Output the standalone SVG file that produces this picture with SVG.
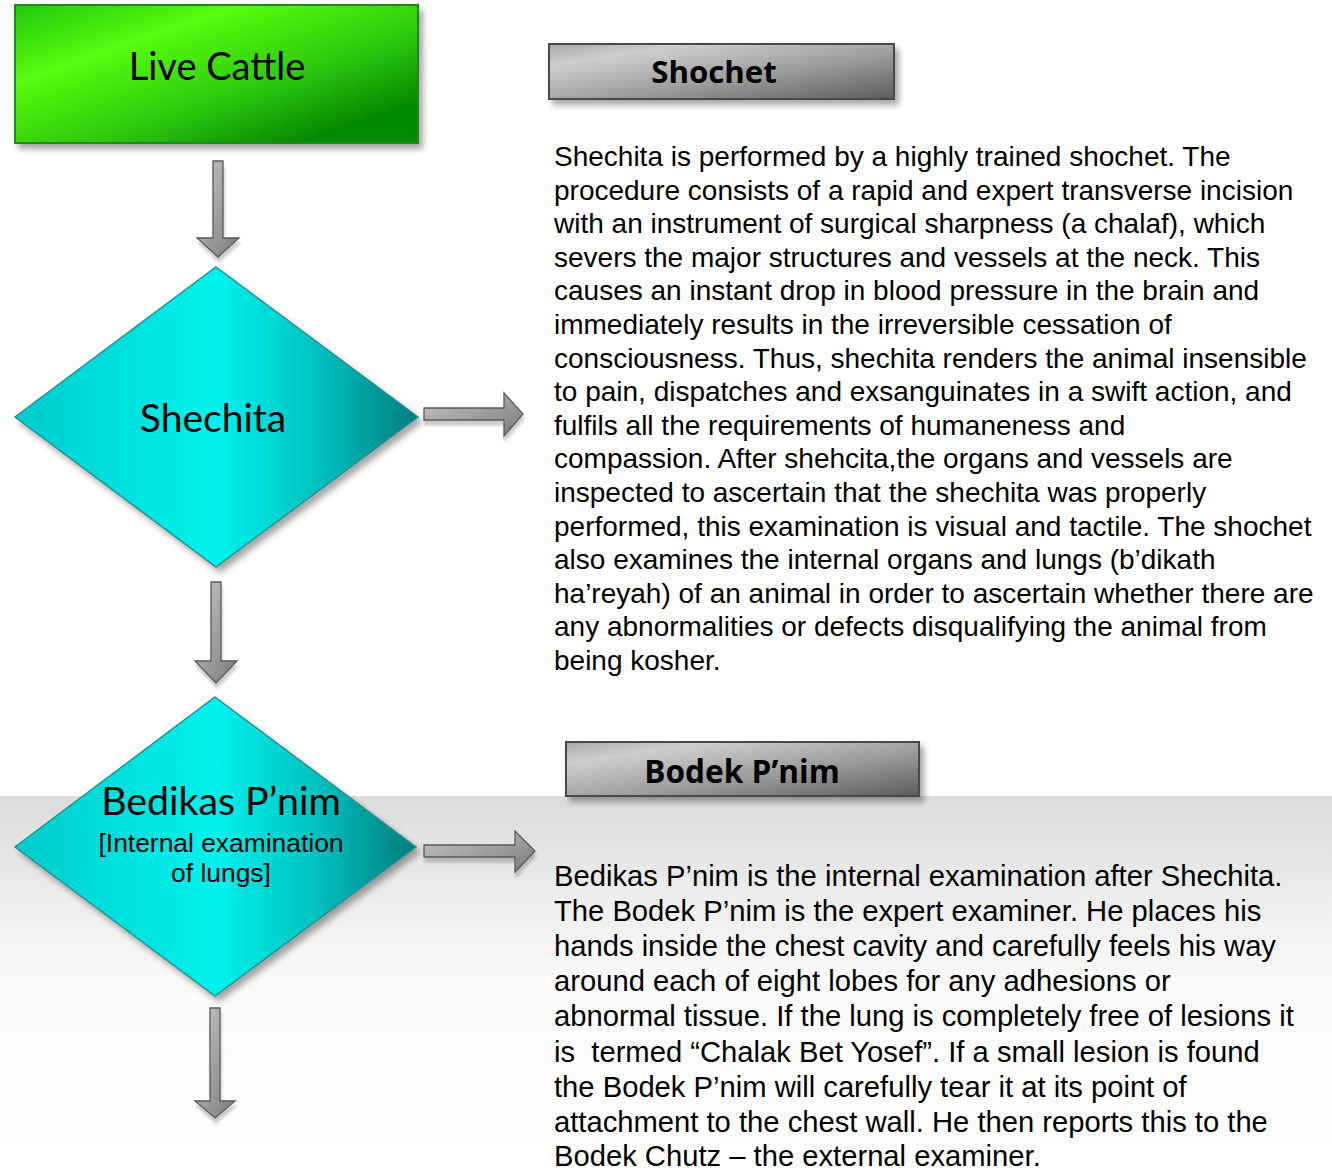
<svg xmlns="http://www.w3.org/2000/svg" width="1332" height="1168" viewBox="0 0 1332 1168">
<style>
.lbl{font-family:Lato,"Open Sans","Noto Sans",sans-serif;fill:#000;text-anchor:middle}
.hdr{font-family:"Open Sans",Lato,"Noto Sans",sans-serif;font-weight:bold;fill:#000;text-anchor:middle}
.body{font-family:"Liberation Sans",Arial,sans-serif;fill:#000;white-space:pre}
.arrow{fill:url(#gArrow);stroke:#5a5a5a;stroke-width:1.3;filter:url(#shA)}
.dia{fill:url(#gDia);stroke:#2a8f8f;stroke-width:1.5;filter:url(#sh)}
.hbox{fill:url(#gGrey);stroke:#4a4a4a;stroke-width:2;filter:url(#sh)}
</style>
<defs>
<linearGradient id="gBg" x1="0" y1="0" x2="0" y2="1">
<stop offset="0" stop-color="#dcdcdc"/>
<stop offset="0.5" stop-color="#fafafa"/>
<stop offset="1" stop-color="#ffffff"/>
</linearGradient>
<linearGradient id="gGreen" x1="0" y1="0" x2="1" y2="1">
<stop offset="0" stop-color="#22c80c"/>
<stop offset="0.28" stop-color="#58fc12"/>
<stop offset="0.6" stop-color="#2cc808"/>
<stop offset="0.85" stop-color="#058a05"/>
<stop offset="1" stop-color="#058a05"/>
</linearGradient>
<linearGradient id="gDia" x1="0" y1="0" x2="1" y2="0">
<stop offset="0" stop-color="#00cccc"/>
<stop offset="0.5" stop-color="#00f2ee"/>
<stop offset="0.75" stop-color="#00c2c0"/>
<stop offset="1" stop-color="#007c7c"/>
</linearGradient>
<linearGradient id="gGrey" x1="0" y1="0" x2="1" y2="1">
<stop offset="0" stop-color="#a8a8a8"/>
<stop offset="0.2" stop-color="#cfcfcf"/>
<stop offset="0.6" stop-color="#9a9a9a"/>
<stop offset="1" stop-color="#5c5c5c"/>
</linearGradient>
<linearGradient id="gArrow" x1="0" y1="0" x2="1" y2="1">
<stop offset="0" stop-color="#c8c8c8"/>
<stop offset="1" stop-color="#7a7a7a"/>
</linearGradient>
<filter id="sh" x="-10%" y="-10%" width="125%" height="130%">
<feDropShadow dx="4" dy="5" stdDeviation="3" flood-color="#000" flood-opacity="0.35"/>
</filter>
<filter id="shA" x="-20%" y="-20%" width="150%" height="150%">
<feDropShadow dx="1" dy="5" stdDeviation="1.5" flood-color="#000" flood-opacity="0.2"/>
</filter>
</defs>
<rect x="0" y="0" width="1332" height="1168" fill="#ffffff"/>
<rect x="0" y="796" width="1332" height="372" fill="url(#gBg)"/>

<g id="connectors">
<path class="arrow" d="M213,161 H223 V238 H239 L218,257 L197,238 H213 Z"/>
<path class="arrow" d="M211,582 H221 V661 H237 L216,683 L195,661 H211 Z"/>
<path class="arrow" d="M210,1008 H220 V1101 H235 L215,1118 L195,1101 H210 Z"/>
<path class="arrow" d="M424,408 H504 V393 L523,414 L504,436 V420 H424 Z"/>
<path class="arrow" d="M424,845 H515 V831 L535,851 L515,872 V857 H424 Z"/>
</g>

<g id="live-cattle">
<rect x="15" y="5" width="403" height="138" fill="url(#gGreen)" stroke="#1e8a1e" stroke-width="2" filter="url(#sh)"/>
<text class="lbl" x="217" y="80" font-size="38">Live Cattle</text>
</g>

<g id="shechita">
<polygon class="dia" points="216,267 418,417 216,567 15,417"/>
<text class="lbl" x="213" y="432" font-size="39">Shechita</text>
</g>

<g id="bedikas-pnim">
<polygon class="dia" points="215,697 416,847 215,996 15,847"/>
<text class="lbl" x="221" y="815" font-size="39.3">Bedikas P’nim</text>
<text class="body" x="221" y="852" font-size="26.4" text-anchor="middle">[Internal examination</text>
<text class="body" x="221" y="882" font-size="26.4" text-anchor="middle">of lungs]</text>
</g>

<g id="shochet">
<rect class="hbox" x="549" y="44" width="345" height="55"/>
<text class="hdr" x="714" y="83" font-size="31.2">Shochet</text>
</g>

<g id="bodek-pnim">
<rect class="hbox" x="566" y="742" width="353" height="54"/>
<text class="hdr" x="742" y="783" font-size="31.6">Bodek P’nim</text>
</g>

<g id="shechita-text">
<text class="body" font-size="28">
<tspan x="554" y="166">Shechita is performed by a highly trained shochet. The</tspan>
<tspan x="554" y="199.6">procedure consists of a rapid and expert transverse incision</tspan>
<tspan x="554" y="233.2">with an instrument of surgical sharpness (a chalaf), which</tspan>
<tspan x="554" y="266.8">severs the major structures and vessels at the neck. This</tspan>
<tspan x="554" y="300.4">causes an instant drop in blood pressure in the brain and</tspan>
<tspan x="554" y="334">immediately results in the irreversible cessation of</tspan>
<tspan x="554" y="367.6">consciousness. Thus, shechita renders the animal insensible</tspan>
<tspan x="554" y="401.2">to pain, dispatches and exsanguinates in a swift action, and</tspan>
<tspan x="554" y="434.8">fulfils all the requirements of humaneness and</tspan>
<tspan x="554" y="468.4">compassion. After shehcita,the organs and vessels are</tspan>
<tspan x="554" y="502">inspected to ascertain that the shechita was properly</tspan>
<tspan x="554" y="535.6">performed, this examination is visual and tactile. The shochet</tspan>
<tspan x="554" y="569.2">also examines the internal organs and lungs (b’dikath</tspan>
<tspan x="554" y="602.8">ha’reyah) of an animal in order to ascertain whether there are</tspan>
<tspan x="554" y="636.4">any abnormalities or defects disqualifying the animal from</tspan>
<tspan x="554" y="670">being kosher.</tspan>
</text>
</g>

<g id="bodek-text">
<text class="body" font-size="29.2">
<tspan x="554" y="886">Bedikas P’nim is the internal examination after Shechita.</tspan>
<tspan x="554" y="921.1">The Bodek P’nim is the expert examiner. He places his</tspan>
<tspan x="554" y="956.2">hands inside the chest cavity and carefully feels his way</tspan>
<tspan x="554" y="991.3">around each of eight lobes for any adhesions or</tspan>
<tspan x="554" y="1026.4">abnormal tissue. If the lung is completely free of lesions it</tspan>
<tspan x="554" y="1061.5">is  termed “Chalak Bet Yosef”. If a small lesion is found</tspan>
<tspan x="554" y="1096.6">the Bodek P’nim will carefully tear it at its point of</tspan>
<tspan x="554" y="1131.7">attachment to the chest wall. He then reports this to the</tspan>
<tspan x="554" y="1166">Bodek Chutz – the external examiner.</tspan>
</text>
</g>
</svg>
